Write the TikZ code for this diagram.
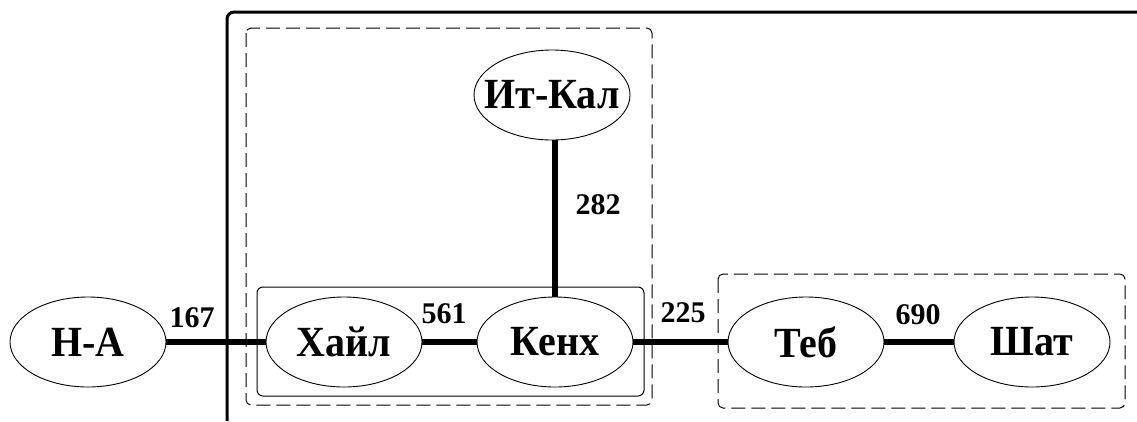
\documentclass[tikz,border=0pt]{standalone}
\usepackage{fontspec}
\setmainfont{Liberation Serif}
\usetikzlibrary{shapes.geometric}
\newcommand{\cityname}[1]{\makebox[0pt]{\scalebox{0.93}[1]{#1}}}
\begin{document}
\begin{tikzpicture}[x=1pt,y=-1pt,
  city/.style={ellipse,draw,line width=0.9pt,minimum width=156pt,minimum height=90pt,inner sep=0pt,font=\fontsize{43}{48}\selectfont\bfseries},
  road/.style={line width=6pt},
  dist/.style={font=\fontsize{30}{36}\selectfont\bfseries,inner sep=0pt},
  zone/.style={draw,dash pattern=on 14pt off 6pt,line width=1pt,rounded corners=5pt},
  grp/.style={draw,line width=1pt,rounded corners=6pt},
  outerframe/.style={draw,line width=3pt,rounded corners=7pt}]
\useasboundingbox (0,0) rectangle (1137,421);
\fill[white] (0,0) rectangle (1137,421);
\draw[outerframe] (227,421) |- (1137,12);
\draw[zone] (246,28) rectangle (652,405);
\draw[grp] (257,287) rectangle (644,396);
\draw[zone] (718,274) rectangle (1125,408);

\node[city] (na) at (88,342) {\cityname{Н-А}};
\node[city] (hail) at (344,342) {\cityname{Хайл}};
\node[city] (kenh) at (555,342) {\cityname{Кенх}};
\node[city] (itkal) at (552,95) {\cityname{Ит-Кал}};
\node[city] (teb) at (806,342) {\cityname{Теб}};
\node[city] (shat) at (1032,342) {\cityname{Шат}};

\draw[road] (na) -- (hail);
\draw[road] (hail) -- (kenh);
\draw[road] (kenh) -- (teb);
\draw[road] (teb) -- (shat);
\draw[road] (itkal.south -| kenh.north) -- (kenh.north);

\node[dist] (d167) at (192,318) {167};
\node[dist] (d561) at (444,314) {561};
\node[dist] (d225) at (683,313) {225};
\node[dist] (d690) at (918,315) {690};
\node[dist] (d282) at (598,205) {282};
\end{tikzpicture}
\end{document}
